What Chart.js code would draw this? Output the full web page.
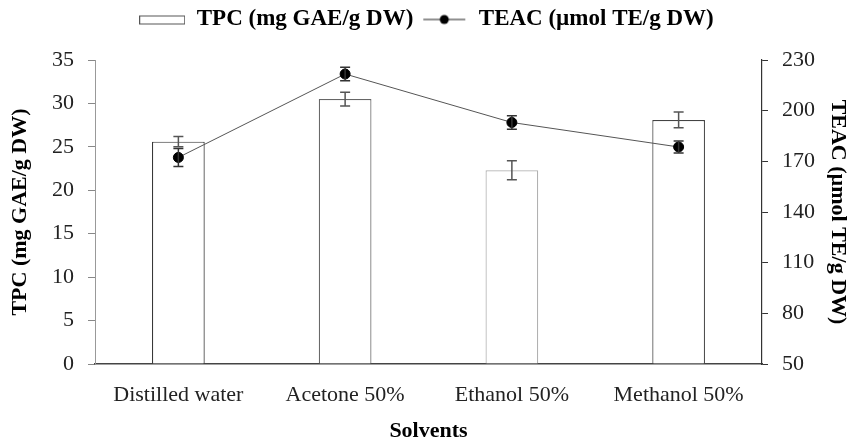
<!DOCTYPE html>
<html>
<head>
<meta charset="utf-8">
<script src="https://cdn.jsdelivr.net/npm/chart.js@4"></script>
<style>
  html, body { margin: 0; padding: 0; background: #fff; }
  #wrap { width: 853px; height: 445px; }
</style>
</head>
<body>
<div id="wrap"><canvas id="chart" width="853" height="445"></canvas></div>
<script>
// data
const solvents = ['Distilled water', 'Acetone 50%', 'Ethanol 50%', 'Methanol 50%'];
const tpc = [25.6, 30.5, 22.3, 28.1];
const tpcErr = [0.6, 0.8, 1.1, 0.9];
const teac = [172.3, 221.7, 193.0, 178.5];
const teacErr = [5.3, 4.0, 4.0, 3.6];

const serif = '"Liberation Serif", "Times New Roman", serif';
const barEdge = ['#333', '#666', '#b0b0b0', '#444'];

// little legend symbols
function legendIcon(kind) {
    const c = document.createElement('canvas');
    c.width = 46; c.height = 12;
    const g = c.getContext('2d');
    if (kind === 'bar') {
        g.strokeStyle = '#555';
        g.lineWidth = 1;
        g.strokeRect(0.5, 2.5, 45, 8);
    } else {
        g.strokeStyle = '#222';
        g.lineWidth = 1.2;
        g.beginPath(); g.moveTo(2, 6); g.lineTo(44, 6); g.stroke();
        g.fillStyle = '#000';
        g.beginPath(); g.arc(23, 6, 4.5, 0, Math.PI * 2); g.fill();
    }
    return c;
}
const icons = { bar: legendIcon('bar'), line: legendIcon('line') };

// error bars, positioned through the chart scales
const errorBars = {
    id: 'errorBars',
    afterDatasetsDraw(chart) {
        const ctx = chart.ctx;
        chart.data.datasets.forEach((ds, i) => {
            if (!ds.errors) return;
            const meta = chart.getDatasetMeta(i);
            const scale = chart.scales[ds.yAxisID];
            ctx.save();
            ctx.strokeStyle = ds.errorColor;
            ctx.lineWidth = 1.5;
            meta.data.forEach((el, j) => {
                const x = el.x;
                const top = scale.getPixelForValue(ds.data[j] + ds.errors[j]);
                const bot = scale.getPixelForValue(ds.data[j] - ds.errors[j]);
                ctx.beginPath();
                ctx.moveTo(x, top); ctx.lineTo(x, bot);
                ctx.moveTo(x - 5, top); ctx.lineTo(x + 5, top);
                ctx.moveTo(x - 5, bot); ctx.lineTo(x + 5, bot);
                ctx.stroke();
            });
            ctx.restore();
        });
    }
};

// make the legend block tall enough that the plot starts at y = 60
const legendHeight = {
    id: 'legendHeight',
    afterInit(chart) {
        const lg = chart.legend;
        const fit = lg.fit;
        lg.fit = function () { fit.call(this); this.height = 60; };
    }
};

new Chart(document.getElementById('chart'), {
    type: 'bar',
    data: {
        labels: solvents,
        datasets: [{
            type: 'line',
            label: 'TEAC (µmol TE/g DW)',
            data: teac,
            errors: teacErr,
            errorColor: '#333',
            yAxisID: 'y1',
            borderColor: '#555',
            borderWidth: 1,
            pointRadius: 5,
            pointStyle: 'circle',
            pointBackgroundColor: '#000',
            pointBorderColor: '#000',
            order: 0
        }, {
            label: 'TPC (mg GAE/g DW)',
            data: tpc,
            errors: tpcErr,
            errorColor: '#555',
            yAxisID: 'y',
            backgroundColor: '#fff',
            borderColor: barEdge,
            borderWidth: 1.2,
            barPercentage: 0.316,
            categoryPercentage: 1,
            order: 1
        }]
    },
    options: {
        responsive: false,
        animation: false,
        layout: { padding: 0 },
        plugins: {
            legend: {
                position: 'top',
                reverse: true,
                labels: {
                    usePointStyle: true,
                    pointStyleWidth: 46,
                    boxHeight: 12,
                    padding: 8,
                    color: '#000',
                    font: { family: serif, size: 23, weight: 'bold' },
                    generateLabels(chart) {
                        const items = Chart.defaults.plugins.legend.labels.generateLabels(chart);
                        items.forEach(it => {
                            it.pointStyle = it.datasetIndex === 0 ? icons.line : icons.bar;
                        });
                        return items;
                    }
                }
            },
            tooltip: { enabled: false }
        },
        scales: {
            x: {
                grid: { display: false, drawTicks: false },
                border: { color: '#444', width: 1.5 },
                ticks: { color: '#222', padding: 18, font: { family: serif, size: 22 } },
                title: {
                    display: true, text: 'Solvents', color: '#000',
                    font: { family: serif, size: 22, weight: 'bold' },
                    padding: { top: 0, bottom: 0 }
                },
                afterFit(s) { s.height = 81; }
            },
            y: {
                position: 'left',
                min: 0, max: 35,
                ticks: { stepSize: 5, color: '#222', padding: 14, font: { family: serif, size: 22 } },
                grid: { drawOnChartArea: false, tickLength: 7, color: '#888' },
                border: { color: '#999', width: 1 },
                title: {
                    display: true, text: 'TPC (mg GAE/g DW)', color: '#000',
                    font: { family: serif, size: 22, weight: 'bold' },
                    padding: { top: 7 }
                },
                afterFit(s) { s.width = 95; }
            },
            y1: {
                position: 'right',
                min: 50, max: 230,
                ticks: { stepSize: 30, color: '#222', padding: 14, font: { family: serif, size: 22 } },
                grid: { drawOnChartArea: false, tickLength: 6, color: '#333' },
                border: { color: '#333', width: 1.2 },
                title: {
                    display: true, text: 'TEAC (µmol TE/g DW)', color: '#000',
                    font: { family: serif, size: 22, weight: 'bold' },
                    padding: { top: 2 }
                },
                afterFit(s) { s.width = 91; }
            }
        }
    },
    plugins: [errorBars, legendHeight]
});
</script>
</body>
</html>
